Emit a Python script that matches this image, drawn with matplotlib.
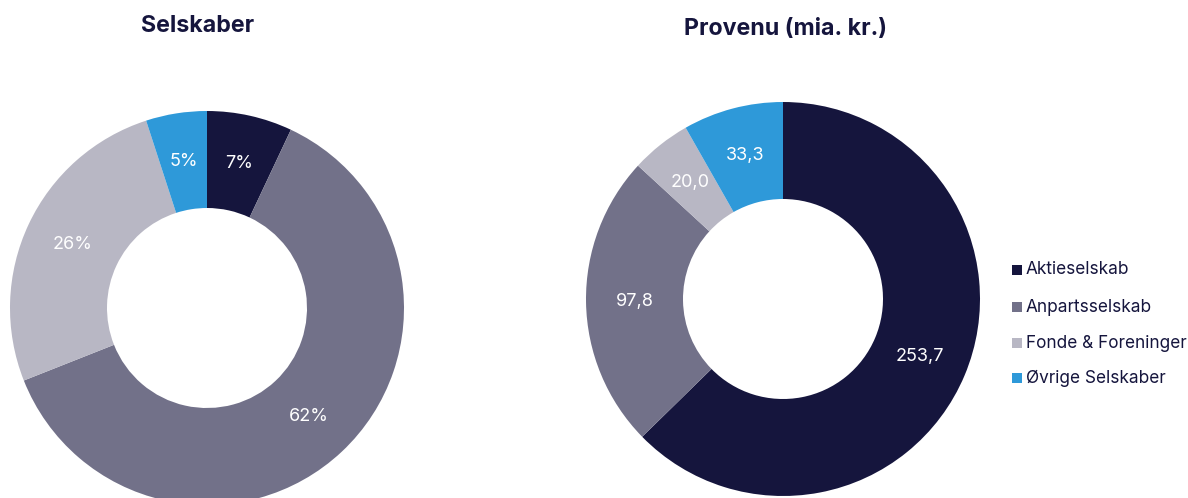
import matplotlib
matplotlib.use("Agg")
import matplotlib.pyplot as plt
import numpy as np

categories = ["Aktieselskab", "Anpartsselskab", "Fonde & Foreninger", "Øvrige Selskaber"]
selskaber_pct = [7, 62, 26, 5]
provenu = [253.7, 97.8, 20.0, 33.3]
titles = ["Selskaber", "Provenu (mia. kr.)"]

colors = ["#15153d", "#727189", "#b8b7c4", "#2e99d9"]
navy = "#15153d"

plt.rcParams['font.family'] = ['Inter', 'DejaVu Sans']

W, H = 1188, 498
fig = plt.figure(figsize=(W / 100, H / 100), dpi=100)
ax = fig.add_axes([0, 0, 1, 1])

R = 197
ring = 97
centers = [(207, H - 308), (783, H - 299)]

def draw(values, center, fmt):
    wedges, _ = ax.pie(values, colors=colors, startangle=90, counterclock=False,
                       radius=R, center=center,
                       wedgeprops=dict(width=ring, edgecolor='none', linewidth=0))
    rmid = R - ring / 2
    for i, w in enumerate(wedges):
        ang = np.deg2rad((w.theta1 + w.theta2) / 2)
        x = center[0] + rmid * np.cos(ang)
        y = center[1] + rmid * np.sin(ang)
        ax.text(x, y, fmt(values[i]), color="white", fontsize=13,
                fontweight="normal", ha="center", va="center")

draw(selskaber_pct, centers[0], lambda v: f"{v}%")
draw(provenu, centers[1], lambda v: f"{v:.1f}".replace(".", ","))

ax.text(198, H - 26, titles[0], fontsize=16.7, fontweight="bold", color=navy,
        ha="center", va="center")
ax.text(786, H - 29, titles[1], fontsize=16.7, fontweight="bold", color=navy,
        ha="center", va="center")

# legend
ly = [270, 307, 343, 378]
for c, lab, y in zip(colors, categories, ly):
    ax.scatter([1017], [H - y], marker="s", s=55, color=c, linewidths=0)
    ax.text(1026, H - y, lab, fontsize=12.4, color=navy, ha="left", va="center")

ax.set_xlim(0, W)
ax.set_ylim(0, H)
ax.set_aspect("equal")
ax.axis("off")

fig.savefig("out.png", dpi=100)
